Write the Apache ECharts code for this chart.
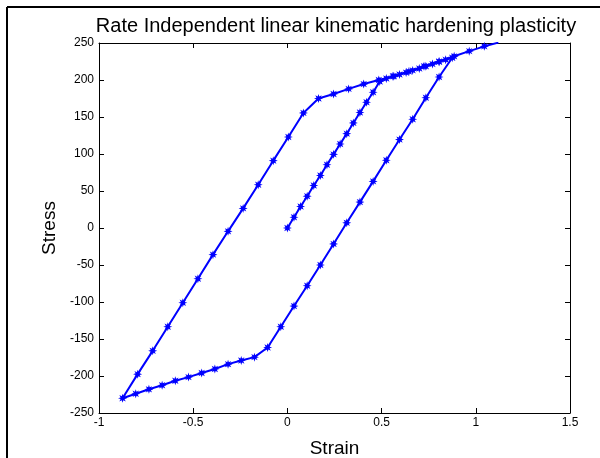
<!DOCTYPE html>
<html>
<head>
<meta charset="utf-8">
<script src="https://cdn.jsdelivr.net/npm/echarts@6/dist/echarts.min.js"></script>
<style>
  html, body { margin: 0; padding: 0; background: #fff; }
  #chart { width: 600px; height: 458px; }
</style>
</head>
<body>
<div id="chart"></div>
<script>
// Loading from rest: elastic rise, yield, hardening to the first strain peak
const strainLoad = [0, 0.035, 0.07, 0.105, 0.14, 0.175, 0.21, 0.245, 0.28, 0.315, 0.35, 0.385, 0.42,
  0.455, 0.49, 0.525, 0.56, 0.595, 0.63, 0.665, 0.7, 0.735, 0.77, 0.805, 0.84, 0.875];
const stressLoad = [0, 14.5, 29, 43, 57.5, 71, 85.5, 99.5, 113.5, 127.5, 142, 156, 170,
  183.5, 198, 202, 205, 207.5, 210, 213, 215.5, 218.5, 221.5, 224.5, 227.5, 230];

// Reversal down to the negative strain limit
const strainUnload = [0.805, 0.735, 0.665, 0.595, 0.525, 0.455, 0.385, 0.315, 0.245, 0.175, 0.105,
  0.035, -0.035, -0.105, -0.175, -0.245, -0.315, -0.385, -0.455, -0.525, -0.595, -0.665, -0.735,
  -0.805, -0.875];
const stressUnload = [204, 176, 147, 119.5, 91.5, 63, 35, 7, -21.5, -50, -78,
  -105.5, -133.5, -161.5, -174.5, -179, -184, -190.5, -196, -201.5, -206.5, -212.5, -218,
  -224, -230];

// Reloading up to the final strain
const strainReload = [-0.795, -0.715, -0.635, -0.555, -0.475, -0.395, -0.315, -0.235, -0.155, -0.075,
  0.005, 0.085, 0.165, 0.245, 0.325, 0.405, 0.485, 0.565, 0.645, 0.725, 0.805, 0.885, 0.965,
  1.045, 1.12];
const stressReload = [-197.5, -166, -133.5, -101, -68.5, -36, -4.5, 26.5, 58.5, 91,
  123, 155.5, 175, 181, 188, 194.5, 200, 205, 211.5, 218.5, 225, 232, 239,
  245.5, 250.5];

const xTicks = { min: -1, max: 1.5, interval: 0.5 };
const yTicks = { min: -250, max: 250, interval: 50 };

const strain = strainLoad.concat(strainUnload, strainReload);
const stress = stressLoad.concat(stressUnload, stressReload);
const path = strain.map((s, i) => [s, stress[i]]);

// eight-pointed asterisk-like marker
const starMarker = 'path://M5,0L2.2,0.9L3.54,3.54L0.9,2.2L0,5L-0.9,2.2L-3.54,3.54L-2.2,0.9L-5,0' +
  'L-2.2,-0.9L-3.54,-3.54L-0.9,-2.2L0,-5L0.9,-2.2L3.54,-3.54L2.2,-0.9Z';

const font = 'Arial, "Liberation Sans", sans-serif';
const blue = '#0000ff';

const fmt = v => String(v);

const baseAxis = {
  axisLine: { show: true, onZero: false, lineStyle: { color: '#000', width: 1 } },
  axisTick: { show: true, inside: true, length: 5, lineStyle: { color: '#000', width: 1 } },
  splitLine: { show: false }
};

const chart = echarts.init(document.getElementById('chart'), null, { renderer: 'canvas' });
chart.setOption({
  backgroundColor: '#fff',
  animation: false,
  title: {
    text: 'Rate Independent linear kinematic hardening plasticity',
    left: 331, top: 11, textAlign: 'center',
    textStyle: { fontFamily: font, fontSize: 20, fontWeight: 'normal', color: '#000' }
  },
  grid: { left: 99, top: 43, width: 471, height: 370, containLabel: false, outerBoundsMode: 'none' },
  xAxis: [
    Object.assign({}, baseAxis, {
      type: 'value', position: 'bottom', min: xTicks.min, max: xTicks.max, interval: xTicks.interval,
      name: 'Strain', nameLocation: 'middle', nameGap: 26,
      nameTextStyle: { fontFamily: font, fontSize: 19, color: '#000' },
      axisLabel: { show: true, margin: 4, fontFamily: font, fontSize: 12, color: '#000', formatter: fmt }
    }),
    Object.assign({}, baseAxis, {
      type: 'value', position: 'top', min: xTicks.min, max: xTicks.max, interval: xTicks.interval,
      axisLabel: { show: false }
    })
  ],
  yAxis: [
    Object.assign({}, baseAxis, {
      type: 'value', position: 'left', min: yTicks.min, max: yTicks.max, interval: yTicks.interval,
      name: 'Stress', nameLocation: 'middle', nameGap: 37, nameRotate: 90,
      nameTextStyle: { fontFamily: font, fontSize: 19, color: '#000' },
      axisLabel: { show: true, margin: 5, fontFamily: font, fontSize: 12, color: '#000', formatter: fmt }
    }),
    Object.assign({}, baseAxis, {
      type: 'value', position: 'right', min: yTicks.min, max: yTicks.max, interval: yTicks.interval,
      axisLabel: { show: false }
    })
  ],
  series: [{
    type: 'line',
    xAxisIndex: 0, yAxisIndex: 0,
    data: path,
    showSymbol: true,
    symbol: starMarker,
    symbolSize: 9,
    lineStyle: { color: blue, width: 2 },
    itemStyle: { color: blue, borderWidth: 0 },
    emphasis: { disabled: true }
  }],
  graphic: [
    { type: 'line', shape: { x1: 7, y1: 7, x2: 600, y2: 7 }, style: { stroke: '#000', lineWidth: 2 }, silent: true },
    { type: 'line', shape: { x1: 7, y1: 7, x2: 7, y2: 458 }, style: { stroke: '#000', lineWidth: 2 }, silent: true }
  ]
});
</script>
</body>
</html>
